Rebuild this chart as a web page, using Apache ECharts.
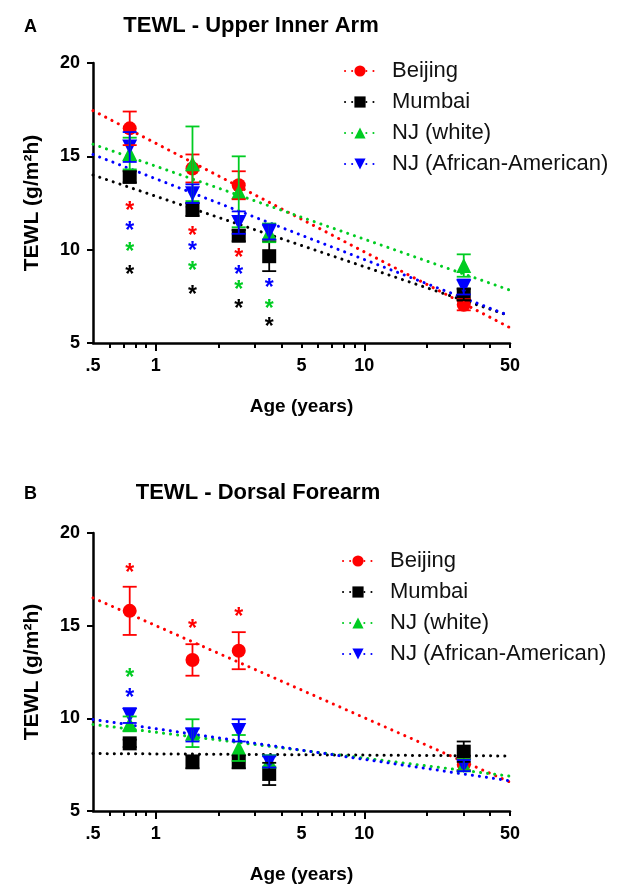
<!DOCTYPE html>
<html>
<head>
<meta charset="utf-8">
<script src="https://cdn.jsdelivr.net/npm/echarts@6/dist/echarts.min.js"></script>
<style>html,body{margin:0;padding:0;background:#fff}#c{width:627px;height:885px}</style>
</head>
<body>
<div id="c"></div>
<script>
// ---- data ----
const ages = [0.75, 1.5, 2.5, 3.5, 30];
const seriesNames = ['Beijing', 'Mumbai', 'NJ (white)', 'NJ (African-American)'];
const colors = ['#ff0000', '#000000', '#00cc22', '#0000ff'];

// Panel A: Upper inner arm (means, SEM)
const beijingA = [16.5, 14.35, 13.45, null, 7.05];
const beijingAErr = [0.9, 0.75, 0.75, null, 0.3];
const mumbaiA = [13.9, 12.15, 10.75, 9.65, 7.6];
const mumbaiAErr = [0.3, 0.35, 0.3, 0.8, 0.3];
const whiteA = [15.15, 14.6, 13.1, 10.9, 9.15];
const whiteAErr = [0.85, 2.0, 1.9, 0.5, 0.6];
const aaA = [15.5, 13.0, 11.45, 10.95, 8.0];
const aaAErr = [0.8, 0.5, 0.6, 0.4, 0.4];
// Panel A regression lines: value at age 0.5 and at age 50
const trendAges = [0.5, 50];
const beijingATrend = [17.45, 5.82];
const mumbaiATrend = [14.0, 6.45];
const whiteATrend = [15.65, 7.83];
const aaATrend = [15.1, 6.45];
// Panel A significance asterisks [age, height]
const starARed = [[0.75, 12.37], [1.5, 11.0], [2.5, 9.85]];
const starABlue = [[0.75, 11.29], [1.5, 10.2], [2.5, 8.95], [3.5, 8.23]];
const starAGreen = [[0.75, 10.17], [1.5, 9.13], [2.5, 8.1], [3.5, 7.12]];
const starABlack = [[0.75, 8.95], [1.5, 7.87], [2.5, 7.12], [3.5, 6.13]];

// Panel B: Dorsal forearm
const beijingB = [15.8, 13.15, 13.65, null, 7.5];
const beijingBErr = [1.3, 0.85, 1.0, null, 0.3];
const mumbaiB = [8.65, 7.65, 7.65, 7.0, 8.2];
const mumbaiBErr = [0.2, 0.35, 0.35, 0.6, 0.55];
const whiteB = [9.7, 9.2, 8.4, 7.7, 7.5];
const whiteBErr = [0.4, 0.75, 0.7, 0.3, 0.3];
const aaB = [10.15, 9.1, 9.35, 7.65, 7.45];
const aaBErr = [0.4, 0.35, 0.6, 0.3, 0.3];
const beijingBTrend = [16.5, 6.56];
const mumbaiBTrend = [8.1, 7.97];
const whiteBTrend = [9.67, 6.88];
const aaBTrend = [9.94, 6.63];
const starBRed = [[0.75, 18.11], [1.5, 15.1], [2.5, 15.74]];
const starBGreen = [[0.75, 12.46]];
const starBBlue = [[0.75, 11.38]];

const xLabelValues = [0.5, 1, 5, 10, 50];
const xMinorTicks = [0.6, 0.7, 0.8, 0.9, 2, 3, 4, 5, 6, 7, 8, 9, 20, 30, 40, 50];
const xMajorTicks = [1, 10];

// ---- helpers ----
const FONT = '"Liberation Sans", Arial, Helvetica, sans-serif';
const symbols = ['circle', 'rect', 'triangle', 'triangle'];
const rotations = [0, 0, 0, 180];
const symSizes = [14, 14, 15, 15];

function pts(vals) { return ages.map((a, i) => vals[i] == null ? null : [a, vals[i]]).filter(Boolean); }
function errPts(vals, errs) { return ages.map((a, i) => vals[i] == null ? null : [a, vals[i], errs[i]]).filter(Boolean); }
function trendPts(v) { return trendAges.map((a, i) => [a, v[i]]); }

function errRender(color) {
  return function (params, api) {
    const x = api.value(0), y = api.value(1), e = api.value(2);
    const t = api.coord([x, y + e]);
    const b = api.coord([x, y - e]);
    const hw = 7;
    const st = { stroke: color, lineWidth: 1.8 };
    return { type: 'group', children: [
      { type: 'line', shape: { x1: t[0], y1: t[1], x2: b[0], y2: b[1] }, style: st },
      { type: 'line', shape: { x1: t[0] - hw, y1: t[1], x2: t[0] + hw, y2: t[1] }, style: st },
      { type: 'line', shape: { x1: b[0] - hw, y1: b[1], x2: b[0] + hw, y2: b[1] }, style: st }
    ]};
  };
}
function starRender(color) {
  return function (params, api) {
    const p = api.coord([api.value(0), api.value(1)]);
    return { type: 'text', x: p[0], y: p[1] + 6,
      style: { text: '*', fill: color, font: 'bold 23px ' + FONT, align: 'center', verticalAlign: 'middle' } };
  };
}

function xAxisDef(grid) {
  return [{
    type: 'log', logBase: 10, gridIndex: grid, min: 0.5, max: 50,
    axisLine: { lineStyle: { color: '#000', width: 2.5 } },
    axisTick: { show: true, length: 5, customValues: xMinorTicks, lineStyle: { color: '#000', width: 2 } },
    minorTick: { show: false },
    splitLine: { show: false },
    axisLabel: { customValues: xLabelValues, margin: 14, color: '#000', fontSize: 18, fontWeight: 'bold', fontFamily: FONT,
      formatter: v => (Math.abs(v - 0.5) < 1e-9 ? '.5' : String(Math.round(v))) },
    name: 'Age (years)', nameLocation: 'middle', nameGap: 54,
    nameTextStyle: { color: '#000', fontSize: 19, fontWeight: 'bold', fontFamily: FONT }
  }, {
    type: 'log', logBase: 10, gridIndex: grid, min: 0.5, max: 50, position: 'bottom',
    axisLine: { show: false },
    axisTick: { show: true, length: 8, customValues: xMajorTicks, lineStyle: { color: '#000', width: 2 } },
    axisLabel: { show: false }, splitLine: { show: false }
  }];
}
function yAxisDef(grid) {
  return {
    type: 'value', gridIndex: grid, min: 5, max: 20, interval: 5,
    axisLine: { show: true, lineStyle: { color: '#000', width: 2.5 } },
    axisTick: { show: true, length: 6, lineStyle: { color: '#000', width: 2 } },
    splitLine: { show: false },
    axisLabel: { margin: 13, color: '#000', fontSize: 18, fontWeight: 'bold', fontFamily: FONT },
    name: 'TEWL (g/m²h)', nameLocation: 'middle', nameGap: 50, nameRotate: 90,
    nameTextStyle: { color: '#000', fontSize: 21, fontWeight: 'bold', fontFamily: FONT }
  };
}

const panels = [
  { vals: [beijingA, mumbaiA, whiteA, aaA], errs: [beijingAErr, mumbaiAErr, whiteAErr, aaAErr],
    trends: [beijingATrend, mumbaiATrend, whiteATrend, aaATrend],
    stars: [[starARed, colors[0]], [starABlue, colors[3]], [starAGreen, colors[2]], [starABlack, colors[1]]] },
  { vals: [beijingB, mumbaiB, whiteB, aaB], errs: [beijingBErr, mumbaiBErr, whiteBErr, aaBErr],
    trends: [beijingBTrend, mumbaiBTrend, whiteBTrend, aaBTrend],
    stars: [[starBRed, colors[0]], [starBGreen, colors[2]], [starBBlue, colors[3]]] }
];

const series = [];
panels.forEach((p, g) => {
  const xi = g * 2;
  p.trends.forEach((t, k) => {
    series.push({ type: 'line', name: seriesNames[k], xAxisIndex: xi, yAxisIndex: g, data: trendPts(t),
      symbol: symbols[k], symbolRotate: rotations[k], symbolSize: 12, showSymbol: false, silent: true,
      lineStyle: { color: colors[k], width: 3, type: [0.1, 7], cap: 'round' },
      itemStyle: { color: colors[k], opacity: 1 }, z: 2 });
  });
  p.vals.forEach((v, k) => {
    series.push({ type: 'scatter', name: seriesNames[k], xAxisIndex: xi, yAxisIndex: g, data: pts(v),
      symbol: symbols[k], symbolRotate: rotations[k], symbolSize: symSizes[k],
      itemStyle: { color: colors[k], opacity: 1 }, z: 3 });
  });
  p.vals.forEach((v, k) => {
    series.push({ type: 'custom', name: seriesNames[k], xAxisIndex: xi, yAxisIndex: g, data: errPts(v, p.errs[k]),
      renderItem: errRender(colors[k]), encode: { x: 0, y: 1 }, z: 4 });
  });
  p.stars.forEach(([d, c]) => {
    series.push({ type: 'custom', xAxisIndex: xi, yAxisIndex: g, data: d, renderItem: starRender(c),
      encode: { x: 0, y: 1 }, z: 5 });
  });
});

function legendDef(left, top) {
  return {
    data: seriesNames, orient: 'vertical', left: left, top: top, itemGap: 9,
    itemWidth: 30, itemHeight: 14, selectedMode: false,
    textStyle: { color: '#111', fontSize: 22, fontFamily: FONT,
      rich: { a: { padding: [0, 0, 0, 12], fontSize: 22, fontFamily: FONT, color: '#111' } } },
    formatter: n => '{a|' + n + '}'
  };
}

const option = {
  backgroundColor: '#fff',
  animation: false,
  grid: [
    { left: 93, top: 63, width: 417, height: 280 },
    { left: 93, top: 533, width: 417, height: 280 }
  ],
  xAxis: [...xAxisDef(0), ...xAxisDef(1)],
  yAxis: [yAxisDef(0), yAxisDef(1)],
  legend: [legendDef(339, 55), legendDef(337, 545)],
  graphic: [
    { type: 'text', left: 24, top: 18, style: { text: 'A', font: 'bold 18px ' + FONT, fill: '#000' } },
    { type: 'text', x: 251, y: 26, style: { text: 'TEWL - Upper Inner Arm', font: 'bold 22px ' + FONT, fill: '#000', align: 'center', verticalAlign: 'middle' } },
    { type: 'text', left: 24, top: 485, style: { text: 'B', font: 'bold 18px ' + FONT, fill: '#000' } },
    { type: 'text', x: 258, y: 493, style: { text: 'TEWL - Dorsal Forearm', font: 'bold 22px ' + FONT, fill: '#000', align: 'center', verticalAlign: 'middle' } }
  ],
  series: series
};

const chart = echarts.init(document.getElementById('c'), null, { renderer: 'canvas' });
chart.setOption(option);
</script>
</body>
</html>
